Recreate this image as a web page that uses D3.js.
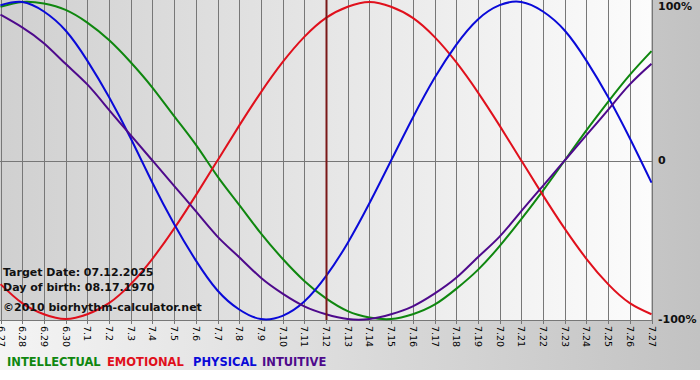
<!DOCTYPE html>
<html>
<head>
<meta charset="utf-8">
<script src="https://cdn.jsdelivr.net/npm/d3@7"></script>
<style>
  body { margin: 0; background: #fff; }
  svg { display: block; font-family: "DejaVu Sans", Verdana, sans-serif; }
</style>
</head>
<body>
<div id="chart"></div>
<script>
// days shown on the x axis
var days = ["6.27", "6.28", "6.29", "6.30", "7.1", "7.2", "7.3", "7.4", "7.5", "7.6", "7.7",
    "7.8", "7.9", "7.10", "7.11", "7.12", "7.13", "7.14", "7.15", "7.16", "7.17", "7.18",
    "7.19", "7.20", "7.21", "7.22", "7.23", "7.24", "7.25", "7.26", "7.27"];

// biorhythm values per day (-1 .. 1)
var intellectual = [0.97, 1.00, 0.99, 0.95, 0.87, 0.76, 0.62, 0.46, 0.28, 0.10, -0.10,
    -0.28, -0.46, -0.62, -0.76, -0.87, -0.95, -0.99, -1.00, -0.97, -0.91, -0.81,
    -0.69, -0.54, -0.37, -0.19, 0.00, 0.19, 0.37, 0.54, 0.69];
var emotional = [-0.78, -0.90, -0.97, -1.00, -0.97, -0.90, -0.78, -0.62, -0.43, -0.22, 0.00,
    0.22, 0.43, 0.62, 0.78, 0.90, 0.97, 1.00, 0.97, 0.90, 0.78, 0.62,
    0.43, 0.22, 0.00, -0.22, -0.43, -0.62, -0.78, -0.90, -0.97];
var physical = [0.98, 1.00, 0.94, 0.82, 0.63, 0.40, 0.14, -0.14, -0.40, -0.63, -0.82,
    -0.94, -1.00, -0.98, -0.89, -0.73, -0.52, -0.27, 0.00, 0.27, 0.52, 0.73,
    0.89, 0.98, 1.00, 0.94, 0.82, 0.63, 0.40, 0.14, -0.14];
var intuitive = [0.92, 0.84, 0.74, 0.61, 0.48, 0.32, 0.16, 0.00, -0.16, -0.32, -0.48,
    -0.61, -0.74, -0.84, -0.92, -0.97, -1.00, -1.00, -0.97, -0.92, -0.84, -0.74,
    -0.61, -0.48, -0.32, -0.16, 0.00, 0.16, 0.32, 0.48, 0.61];

var yTicks = [1, 0, -1];
var yTickLabels = ["100%", "0", "-100%"];
var targetDay = "7.12";
var infoLines = ["Target Date: 07.12.2025", "Day of birth: 08.17.1970", "\u00a92010 biorhythm-calculator.net"];

var series = [
    {name: "INTELLECTUAL", values: intellectual, color: "#0f870f"},
    {name: "EMOTIONAL", values: emotional, color: "#e0101c"},
    {name: "PHYSICAL", values: physical, color: "#0a0ad8"},
    {name: "INTUITIVE", values: intuitive, color: "#4e0a8c"}
];

var width = 700, height = 380;
var plotW = 651, plotH = 320;

var x = d3.scaleLinear()
    .domain([0, days.length - 1])
    .range([0.5, plotW + 0.5]);

var y = d3.scaleLinear()
    .domain([-1, 1])
    .range([plotH - 1, 2]);

var svg = d3.select("#chart")
    .append("svg")
    .attr("width", width)
    .attr("height", height);

var defs = svg.append("defs");

var outerGrad = defs.append("linearGradient")
    .attr("id", "outerGrad")
    .attr("x1", "0%").attr("x2", "100%").attr("y1", "0%").attr("y2", "0%");
outerGrad.append("stop").attr("offset", "0%").attr("stop-color", "#f4f4f4");
outerGrad.append("stop").attr("offset", "100%").attr("stop-color", "#c2c2c2");

var plotGrad = defs.append("linearGradient")
    .attr("id", "plotGrad")
    .attr("x1", "0%").attr("x2", "100%").attr("y1", "0%").attr("y2", "0%");
plotGrad.append("stop").attr("offset", "0%").attr("stop-color", "#d0d0d0");
plotGrad.append("stop").attr("offset", "100%").attr("stop-color", "#fcfcfc");

defs.append("clipPath")
    .attr("id", "plotClip")
    .append("rect")
    .attr("x", 0).attr("y", 0)
    .attr("width", plotW + 1).attr("height", plotH + 1);

// backgrounds
svg.append("rect")
    .attr("width", width)
    .attr("height", 370)
    .attr("fill", "url(#outerGrad)");

svg.append("rect")
    .attr("width", plotW)
    .attr("height", plotH)
    .attr("fill", "url(#plotGrad)");

var main = svg.append("g");

// vertical grid lines + ticks
main.selectAll(".grid")
    .data(days)
    .enter().append("line")
    .attr("class", "grid")
    .attr("x1", function (d, i) { return Math.round(x(i)) + 0.5; })
    .attr("x2", function (d, i) { return Math.round(x(i)) + 0.5; })
    .attr("y1", 0)
    .attr("y2", plotH + 4)
    .attr("stroke", "#777")
    .attr("stroke-width", 1);

// zero line and bottom axis line
main.append("line")
    .attr("x1", 0).attr("x2", plotW + 1)
    .attr("y1", Math.round(y(0)) + 0.5).attr("y2", Math.round(y(0)) + 0.5)
    .attr("stroke", "#777");

main.append("line")
    .attr("x1", 0).attr("x2", plotW + 1)
    .attr("y1", plotH + 0.5).attr("y2", plotH + 0.5)
    .attr("stroke", "#777");

// x labels, rotated
main.selectAll(".xlabel")
    .data(days)
    .enter().append("text")
    .attr("class", "xlabel")
    .attr("transform", function (d, i) {
        return "translate(" + (Math.round(x(i)) + 0.5) + "," + (plotH + 6) + ") rotate(90)";
    })
    .attr("dy", "0.35em")
    .attr("font-size", "9.5px")
    .attr("fill", "#000")
    .text(function (d) { return d; });

// curves
var line = d3.line()
    .x(function (d, i) { return x(i); })
    .y(function (d) { return y(d); })
    .curve(d3.curveNatural);

var curves = main.append("g").attr("clip-path", "url(#plotClip)");

curves.selectAll(".curve")
    .data(series)
    .enter().append("path")
    .attr("class", "curve")
    .attr("fill", "none")
    .attr("stroke", function (d) { return d.color; })
    .attr("stroke-width", 2)
    .attr("d", function (d) { return line(d.values); });

// target day marker
var ti = days.indexOf(targetDay);
main.append("line")
    .attr("x1", Math.round(x(ti)) + 0.5)
    .attr("x2", Math.round(x(ti)) + 0.5)
    .attr("y1", 0)
    .attr("y2", plotH)
    .attr("stroke", "#7a1818")
    .attr("stroke-width", 2);

// info text
main.selectAll(".info")
    .data(infoLines)
    .enter().append("text")
    .attr("class", "info")
    .attr("x", 3)
    .attr("y", function (d, i) { return [276, 291, 311][i]; })
    .attr("font-size", "11px")
    .attr("font-weight", "bold")
    .attr("fill", "#111")
    .text(function (d) { return d; });

// y labels on the right
main.selectAll(".ylabel")
    .data(yTicks)
    .enter().append("text")
    .attr("class", "ylabel")
    .attr("x", 658)
    .attr("y", function (d) { return y(d); })
    .attr("dy", function (d) { return d === 1 ? "0.7em" : "0.35em"; })
    .attr("font-size", "11px")
    .attr("font-weight", "bold")
    .attr("fill", "#111")
    .text(function (d, i) { return yTickLabels[i]; });

// legend
var legendX = [7, 107, 193, 262];
svg.selectAll(".legend")
    .data(series)
    .enter().append("text")
    .attr("class", "legend")
    .attr("x", function (d, i) { return legendX[i]; })
    .attr("y", 366)
    .attr("font-size", "11.5px")
    .attr("font-weight", "bold")
    .attr("fill", function (d) { return d.color; })
    .text(function (d) { return d.name; });
</script>
</body>
</html>
